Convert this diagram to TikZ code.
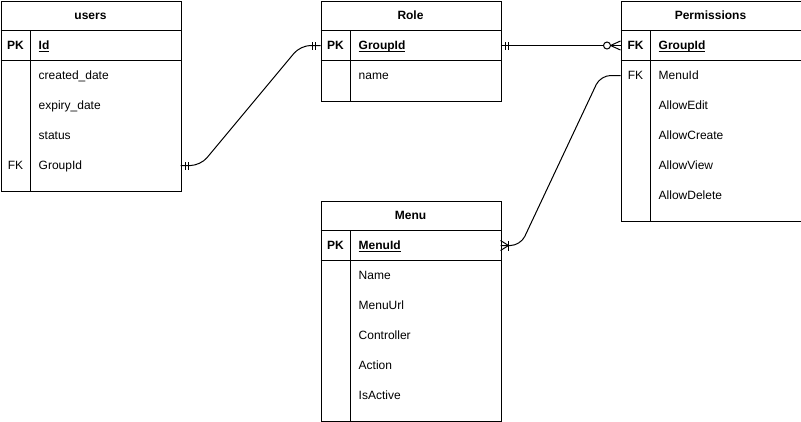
\documentclass[tikz,border=0pt]{standalone}
\usepackage{fontspec}
\setmainfont{Liberation Sans}
\newcommand\myul[1]{\setbox0\hbox{#1}\rlap{\rule[-2pt]{\wd0}{0.9pt}}\box0}
\begin{document}
\begin{tikzpicture}[x=1pt,y=-1pt,
  tbl/.style={draw, line width=1pt, rectangle, anchor=north west, inner sep=0pt},
  sepline/.style={line width=1pt},
  ttl/.style={font=\fontsize{12}{14}\selectfont\bfseries, anchor=base, inner sep=0pt},
  fld/.style={font=\fontsize{12}{14}\selectfont, anchor=base west, inner sep=0pt},
  keyfld/.style={font=\fontsize{12}{14}\selectfont\bfseries, anchor=base west, inner sep=0pt},
  lbl/.style={font=\fontsize{12}{14}\selectfont, anchor=base, inner sep=0pt},
  klbl/.style={font=\fontsize{12}{14}\selectfont\bfseries, anchor=base, inner sep=0pt},
  conn/.style={line width=1pt, rounded corners=10pt},
  mk/.style={line width=1pt},
]
\useasboundingbox (0,0) rectangle (801,421);

% ---------- users ----------
\node[tbl, minimum width=180pt, minimum height=190pt] (users) at (0.5,0.5) {};
\node[ttl] (users-t) at (90.5,19.5) {users};
\draw[sepline] (0.5,30.5) -- (180.5,30.5);
\draw[sepline] (0.5,60.5) -- (180.5,60.5);
\draw[sepline] (30.5,30.5) -- (30.5,190.5);
\node[klbl] (users-pk) at (15.5,49.5) {PK};
\node[keyfld] (users-id) at (38.5,49.5) {\myul{Id}};
\node[fld] (users-cd) at (38.5,79.5) {created\_date};
\node[fld] (users-ed) at (38.5,109.5) {expiry\_date};
\node[fld] (users-st) at (38.5,139.5) {status};
\node[lbl] (users-fk) at (15.5,169.5) {FK};
\node[fld] (users-gid) at (38.5,169.5) {GroupId};
\coordinate (uG) at (180.5,165.5);

% ---------- Role ----------
\node[tbl, minimum width=180pt, minimum height=100pt] (role) at (320.5,0.5) {};
\node[ttl] (role-t) at (410.5,19.5) {Role};
\draw[sepline] (320.5,30.5) -- (500.5,30.5);
\draw[sepline] (320.5,60.5) -- (500.5,60.5);
\draw[sepline] (350.5,30.5) -- (350.5,100.5);
\node[klbl] (role-pk) at (335.5,49.5) {PK};
\node[keyfld] (role-gid) at (358.5,49.5) {\myul{GroupId}};
\node[fld] (role-name) at (358.5,79.5) {name};
\coordinate (rW) at (320.5,45.5);
\coordinate (rE) at (500.5,45.5);

% ---------- Permissions ----------
\node[tbl, minimum width=180pt, minimum height=220pt] (perm) at (620.5,0.5) {};
\node[ttl] (perm-t) at (710.5,19.5) {Permissions};
\draw[sepline] (620.5,30.5) -- (800.5,30.5);
\draw[sepline] (620.5,60.5) -- (800.5,60.5);
\draw[sepline] (650.5,30.5) -- (650.5,220.5);
\node[klbl] (perm-fk1) at (635.5,49.5) {FK};
\node[keyfld] (perm-gid) at (658.5,49.5) {\myul{GroupId}};
\node[lbl] (perm-fk2) at (635.5,79.5) {FK};
\node[fld] (perm-mid) at (658.5,79.5) {MenuId};
\node[fld] (perm-ae) at (658.5,109.5) {AllowEdit};
\node[fld] (perm-ac) at (658.5,139.5) {AllowCreate};
\node[fld] (perm-av) at (658.5,169.5) {AllowView};
\node[fld] (perm-ad) at (658.5,199.5) {AllowDelete};
\coordinate (pG) at (620.5,45.5);
\coordinate (pM) at (620.5,75.5);

% ---------- Menu ----------
\node[tbl, minimum width=180pt, minimum height=220pt] (menu) at (320.5,200.5) {};
\node[ttl] (menu-t) at (410.5,219.5) {Menu};
\draw[sepline] (320.5,230.5) -- (500.5,230.5);
\draw[sepline] (320.5,260.5) -- (500.5,260.5);
\draw[sepline] (350.5,230.5) -- (350.5,420.5);
\node[klbl] (menu-pk) at (335.5,249.5) {PK};
\node[keyfld] (menu-mid) at (358.5,249.5) {\myul{MenuId}};
\node[fld] (menu-name) at (358.5,279.5) {Name};
\node[fld] (menu-url) at (358.5,309.5) {MenuUrl};
\node[fld] (menu-ctl) at (358.5,339.5) {Controller};
\node[fld] (menu-act) at (358.5,369.5) {Action};
\node[fld] (menu-isa) at (358.5,399.5) {IsActive};
\coordinate (mE) at (500.5,245.5);

% ---------- connectors ----------
% users.GroupId -> Role.GroupId (one and only one at both ends)
\draw[conn] (uG) -- ([xshift=20pt]uG) -- ([xshift=-20pt]rW) -- (rW);
\draw[mk] ([xshift=5pt,yshift=-4pt]uG) -- ([xshift=5pt,yshift=4pt]uG);
\draw[mk] ([xshift=8pt,yshift=-4pt]uG) -- ([xshift=8pt,yshift=4pt]uG);
\draw[mk] ([xshift=-5pt,yshift=-4pt]rW) -- ([xshift=-5pt,yshift=4pt]rW);
\draw[mk] ([xshift=-8pt,yshift=-4pt]rW) -- ([xshift=-8pt,yshift=4pt]rW);

% Role.GroupId -> Permissions.GroupId (one to zero-or-many)
\draw[conn] (rE) -- (pG);
\draw[mk] ([xshift=5pt,yshift=-4pt]rE) -- ([xshift=5pt,yshift=4pt]rE);
\draw[mk] ([xshift=8pt,yshift=-4pt]rE) -- ([xshift=8pt,yshift=4pt]rE);
\draw[mk] ([xshift=-10pt]pG) -- ([yshift=-4.5pt]pG);
\draw[mk] ([xshift=-10pt]pG) -- ([yshift=4.5pt]pG);
\draw[mk, fill=white] ([xshift=-13.5pt]pG) circle[radius=3.5pt];

% Permissions.MenuId -> Menu.MenuId (one-or-many at Menu)
\draw[conn] (pM) -- ([xshift=-20pt]pM) -- ([xshift=20pt]mE) -- (mE);
\draw[mk] ([xshift=8pt,yshift=-5pt]mE) -- ([xshift=8pt,yshift=5pt]mE);
\draw[mk] ([xshift=8pt]mE) -- ([yshift=-5pt]mE);
\draw[mk] ([xshift=8pt]mE) -- ([yshift=5pt]mE);
\end{tikzpicture}
\end{document}
